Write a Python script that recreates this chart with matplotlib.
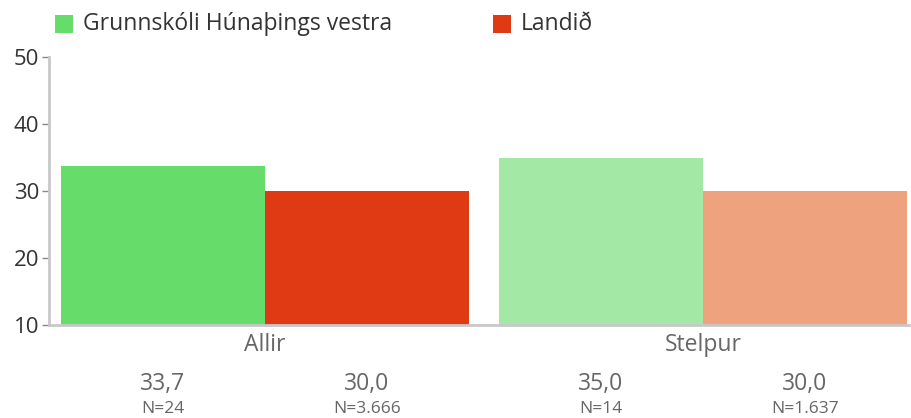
import matplotlib
matplotlib.use("Agg")
import matplotlib.pyplot as plt
from matplotlib.patches import Rectangle
import numpy as np

plt.rcParams['font.family'] = ['Open Sans', 'DejaVu Sans']

groups = ["Allir", "Stelpur"]
series = ["Grunnskóli Húnaþings vestra", "Landið"]
school = [33.7, 35.0]
country = [30.0, 30.0]
school_n = ["N=24", "N=14"]
country_n = ["N=3.666", "N=1.637"]
school_colors = ["#66dd6a", "#a3e8a5"]
country_colors = ["#e03a14", "#eea27d"]
yticks = [10, 20, 30, 40, 50]

fig = plt.figure(figsize=(9.11, 4.18), dpi=100)
ax = fig.add_axes([49 / 911, 93 / 418, 861 / 911, 268 / 418])

x = np.arange(len(groups))
w = 0.466
base = 10
ax.bar(x - w / 2, np.array(school) - base, w, bottom=base, color=school_colors, linewidth=0)
ax.bar(x + w / 2, np.array(country) - base, w, bottom=base, color=country_colors, linewidth=0)

ax.set_xlim(-0.493, 1.473)
ax.set_ylim(10, 50)
ax.set_yticks(yticks)
ax.set_yticklabels([str(t) for t in yticks], fontsize=16, color="#333333")
ax.tick_params(axis="y", length=5, width=1, color="#888888", pad=2)
ax.tick_params(axis="x", length=0)
ax.set_xticks([])

for s in ["top", "right"]:
    ax.spines[s].set_visible(False)
for s in ["left", "bottom"]:
    ax.spines[s].set_color("#c8c8c8")
    ax.spines[s].set_linewidth(2)

# category labels and values below the axis
trans = ax.get_xaxis_transform()
for i, g in enumerate(groups):
    ax.text(x[i], -0.075, g, transform=trans, ha="center", va="center",
            fontsize=16.5, color="#666666")
    ax.text(x[i] - w / 2, -0.22, f"{school[i]:.1f}".replace(".", ","), transform=trans,
            ha="center", va="center", fontsize=16.5, color="#666666")
    ax.text(x[i] + w / 2, -0.22, f"{country[i]:.1f}".replace(".", ","), transform=trans,
            ha="center", va="center", fontsize=16.5, color="#666666")
    ax.text(x[i] - w / 2, -0.312, school_n[i], transform=trans,
            ha="center", va="center", fontsize=12.5, color="#666666")
    ax.text(x[i] + w / 2, -0.312, country_n[i], transform=trans,
            ha="center", va="center", fontsize=12.5, color="#666666")

# legend
for px, label, col in [(55, series[0], school_colors[0]), (493, series[1], country_colors[0])]:
    fig.patches.append(Rectangle((px / 911, 1 - 33 / 418), 18 / 911, 18 / 418,
                                 transform=fig.transFigure, color=col, linewidth=0))
    fig.text((px + 28) / 911, 1 - 24 / 418, label, ha="left", va="center",
             fontsize=16.5, color="#333333")

fig.savefig("out.png", dpi=100)
